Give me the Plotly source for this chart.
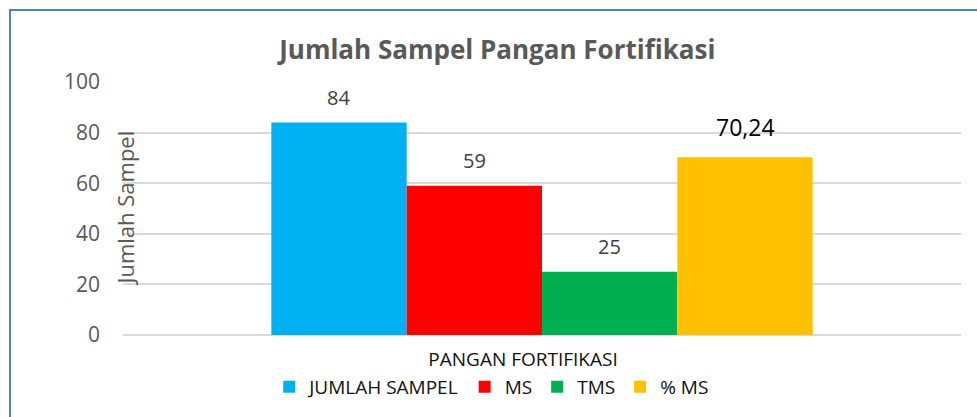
import plotly.graph_objects as go

categories = ["PANGAN FORTIFIKASI"]
series_names = ["JUMLAH SAMPEL", "MS", "TMS", "% MS"]
series_values = [84, 59, 25, 70.24]
value_labels = ["84", "59", "25", "70,24"]
colors = ["#00B0F0", "#FF0000", "#00B050", "#FFC000"]
y_ticks = [0, 20, 40, 60, 80, 100]

FONT = "Open Sans"
BARGAP = 0.354

fig = go.Figure()
for name, val, col in zip(series_names, series_values, colors):
    fig.add_trace(go.Bar(
        x=categories, y=[val], name=name,
        marker=dict(color=col, line=dict(width=0)),
        hoverinfo="skip",
    ))

# data labels above the bars
n = len(series_names)
w = (1 - BARGAP) / n
for i, (val, lab) in enumerate(zip(series_values, value_labels)):
    xc = -0.5 * (1 - BARGAP) + w * (i + 0.5)
    big = (i == n - 1)
    fig.add_annotation(
        x=xc, y=val, xref="x", yref="y", text=lab, showarrow=False,
        yanchor="middle", yshift=30 if big else 25,
        font=dict(family=FONT, size=23 if big else 20,
                  color="#000000" if big else "#404040"),
    )

# y-axis title drawn inside the left edge like the original
fig.add_annotation(
    text="Jumlah Sampel", xref="paper", yref="paper", x=0, y=0.5,
    xanchor="center", yanchor="middle", textangle=-90, showarrow=False,
    xshift=1, font=dict(family=FONT, size=22, color="#595959"),
)

# chart border (top and left visible)
fig.add_shape(type="rect", xref="paper", yref="paper",
              x0=-0.1348, x1=1.03, y0=-0.36, y1=1.2846,
              line=dict(color="#4F81BD", width=2), layer="above")

fig.update_layout(
    width=977, height=417,
    margin=dict(l=123, r=16, t=82, b=82, autoexpand=False),
    paper_bgcolor="white", plot_bgcolor="white",
    barmode="group", bargap=BARGAP, bargroupgap=0,
    title=dict(text="<b>Jumlah Sampel Pangan Fortifikasi</b>",
               x=0.509, xanchor="center", y=0.88, yanchor="middle",
               font=dict(family=FONT, size=26, color="#595959")),
    showlegend=True,
    legend=dict(orientation="h", x=0.44, xanchor="center", y=-0.205,
                yanchor="middle", bgcolor="rgba(0,0,0,0)",
                font=dict(family=FONT, size=19, color="#111111"),
                itemsizing="constant", tracegroupgap=0, traceorder="normal"),
    font=dict(family=FONT),
)
fig.update_xaxes(
    showgrid=False, showline=False, zeroline=False, ticks="",
    tickfont=dict(family=FONT, size=19, color="#111111"),
    ticklabelstandoff=11, ticklabelshift=-19,
)
fig.update_yaxes(
    range=[0, 100], tickvals=y_ticks, ticktext=[str(v) for v in y_ticks],
    showgrid=True, gridcolor="#D9D9D9", gridwidth=1.5,
    zeroline=True, zerolinecolor="#D9D9D9", zerolinewidth=1.5,
    showline=False, ticks="", ticklabelstandoff=22,
    tickfont=dict(family=FONT, size=21, color="#595959"),
)

fig.write_html("out.html", config={"displayModeBar": False},
               post_script="document.body.style.margin='0';")
